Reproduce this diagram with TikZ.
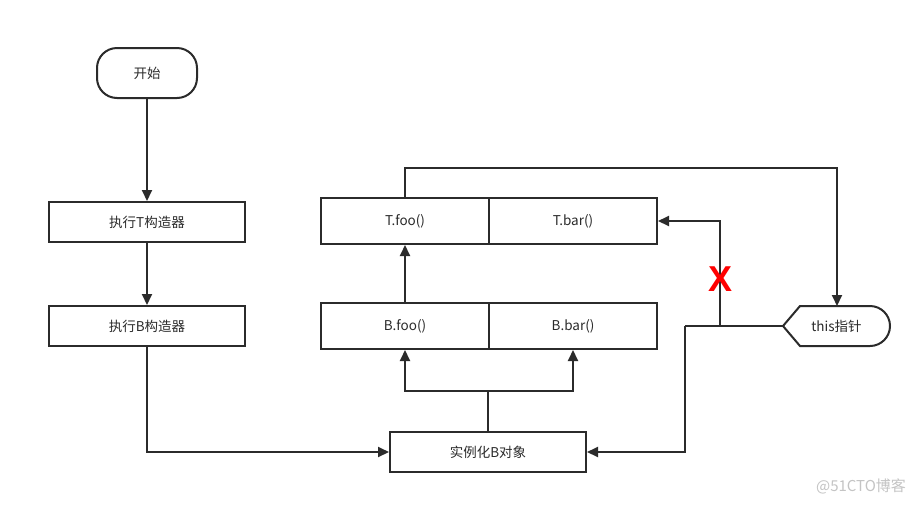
\documentclass[tikz,border=0pt]{standalone}
\usepackage{fontspec}
\setmainfont{Noto Sans CJK SC}
\newfontfamily\xfont{Liberation Sans}
\usetikzlibrary{arrows.meta,calc}
\definecolor{lc}{HTML}{2B2B2B}
\definecolor{wm}{HTML}{C4C4C4}
\begin{document}
\begin{tikzpicture}[x=1pt,y=-1pt,
  line width=2pt,
  every node/.style={text=lc,font=\fontsize{13.5}{15}\selectfont,inner sep=0pt},
  box/.style={draw=lc,line width=2pt,minimum width=196pt,minimum height=40pt},
  half/.style={draw=lc,line width=2pt,minimum width=168pt,minimum height=46pt},
  conn/.style={draw=lc,line width=2pt},
  arr/.style={conn,-{Triangle[length=11pt,width=10pt]}}
]
\useasboundingbox (0,0) rectangle (921,504);
\fill[white] (0,0) rectangle (921,504);

\node[draw=lc,line width=2pt,rounded corners=20pt,minimum width=100pt,minimum height=50pt] (start) at (147,73) {开始};
\node[box] (t) at (147,222) {执行T构造器};
\node[box] (b) at (147,326) {执行B构造器};
\node[box] (inst) at (488,452) {实例化B对象};
\node[half] (tfoo) at (405,221) {T.foo()};
\node[half] (tbar) at (573,221) {T.bar()};
\node[half] (bfoo) at (405,326) {B.foo()};
\node[half] (bbar) at (573,326) {B.bar()};

% this pointer display shape
\draw[lc,line width=2pt] (783,326) -- (800,306) -- (870,306) arc (-90:90:20) -- (800,346) -- cycle;
\node (this) at (836.5,326) {this指针};
\coordinate (thistop) at (837,306);
\coordinate (thisleft) at (783,326);

\draw[arr] (start) -- (t);
\draw[arr] (t) -- (b);
\draw[arr] (b.south) |- (inst.west);
\coordinate (split) at ($(inst.north)+(0,-40)$);
\draw[conn] (inst.north) -- (split);
\draw[arr] (split) -| (bfoo.south);
\draw[arr] (split) -| (bbar.south);
\draw[arr] (bfoo.north) -- (tfoo.south);
\draw[arr] (tfoo.north) -- ++(0,-29) -| (thistop);
\coordinate (j1) at (685,326);
\coordinate (j2) at (720,326);
\draw[conn] (thisleft) -- (j1);
\draw[arr] (j1) |- (inst.east);
\draw[arr] (j2) |- (tbar.east);

\node[text=red,font=\xfont\bfseries\fontsize{36}{36}\selectfont] (x) at (720,279) {X};
\node[text=wm,font=\fontsize{15}{16}\selectfont] (wmark) at (861,486) {@51CTO博客};
\end{tikzpicture}
\end{document}
